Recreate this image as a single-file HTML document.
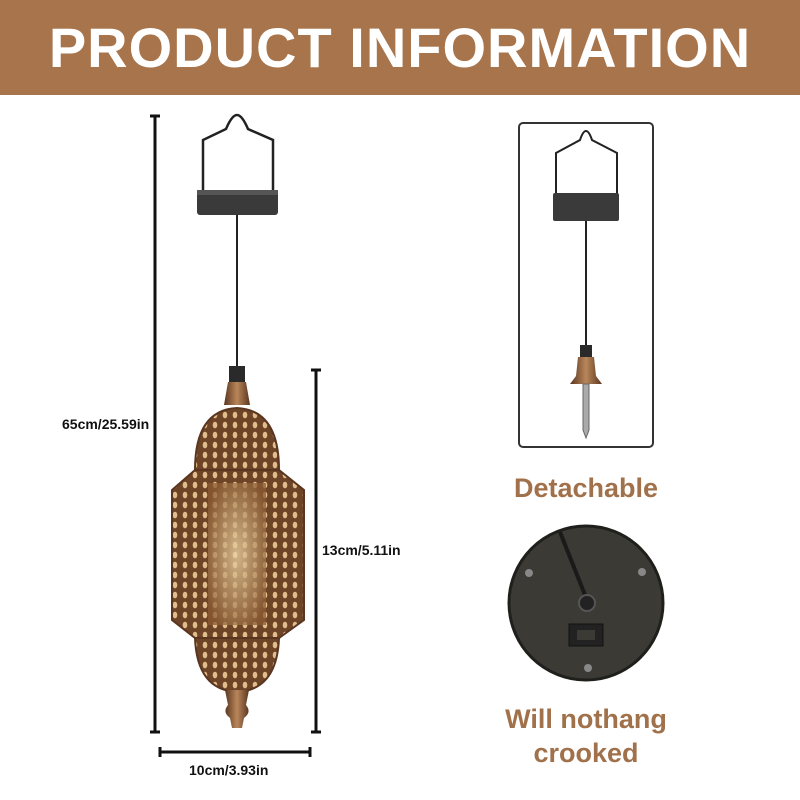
<!DOCTYPE html>
<html><head><meta charset="utf-8"><style>
html,body{margin:0;padding:0;background:#fff;}
body{width:800px;height:800px;position:relative;overflow:hidden;font-family:"Liberation Sans","DejaVu Sans",sans-serif;}
.hdr{position:absolute;left:0;top:0;width:800px;height:95px;background:#a8744b;color:#fff;font-weight:bold;font-size:56px;text-align:center;line-height:95px;letter-spacing:1px;}
.t{position:absolute;font-weight:bold;color:#111;font-size:14px;}
.b{position:absolute;font-weight:bold;color:#a0714a;font-size:27px;text-align:center;}
</style></head><body>
<div class="hdr">PRODUCT INFORMATION</div>
<svg width="800" height="800" style="position:absolute;left:0;top:0">
<defs>
<linearGradient id="cu" x1="0" x2="1"><stop offset="0" stop-color="#5a3620"/><stop offset=".5" stop-color="#b9865a"/><stop offset="1" stop-color="#5a3620"/></linearGradient>
<radialGradient id="gl" cx=".5" cy=".5" r=".6"><stop offset="0" stop-color="#f2d9a8"/><stop offset="1" stop-color="#8a5a32"/></radialGradient>
<pattern id="pt" width="10" height="10" patternUnits="userSpaceOnUse"><rect width="10" height="10" fill="#6e4426"/><ellipse cx="5" cy="5" rx="2.3" ry="3.3" fill="#e0bd8c"/></pattern>
</defs>
<g stroke="#111" stroke-width="3">
<line x1="155" y1="116" x2="155" y2="732"/><line x1="150" y1="116" x2="160" y2="116"/><line x1="150" y1="732" x2="160" y2="732"/>
<line x1="316" y1="370" x2="316" y2="732"/><line x1="311" y1="370" x2="321" y2="370"/><line x1="311" y1="732" x2="321" y2="732"/>
<line x1="160" y1="752" x2="310" y2="752"/><line x1="160" y1="747" x2="160" y2="757"/><line x1="310" y1="747" x2="310" y2="757"/>
</g>
<path d="M203 192 L203 140 L226 129 Q232 115 237 115 Q242 115 248 129 L273 140 L273 192" fill="none" stroke="#222" stroke-width="2.5"/>
<rect x="197" y="190" width="81" height="25" fill="#3a3a3a" rx="3"/>
<rect x="197" y="190" width="81" height="5" fill="#555"/>
<line x1="237" y1="215" x2="237" y2="368" stroke="#222" stroke-width="2"/>
<rect x="229" y="366" width="16" height="16" fill="#2a2a2a"/>
<path d="M228 382 L246 382 L250 405 L224 405Z" fill="url(#cu)"/>
<path d="M195 470 Q195 410 237 408 Q279 410 279 470Z" fill="url(#pt)" stroke="#5a3620" stroke-width="2"/>
<path d="M172 490 L195 470 L279 470 L304 490 L304 620 L279 638 L195 638 L172 620Z" fill="url(#pt)" stroke="#5a3620" stroke-width="2"/>
<rect x="208" y="483" width="58" height="142" fill="url(#gl)" opacity=".75"/>
<path d="M195 638 Q197 690 237 692 Q277 690 279 638Z" fill="url(#pt)" stroke="#5a3620" stroke-width="2"/>
<path d="M225 690 L249 690 L246 705 Q252 712 244 718 L242 728 L232 728 L230 718 Q222 712 228 705Z" fill="url(#cu)"/>
<rect x="519" y="123" width="134" height="324" rx="4" fill="none" stroke="#333" stroke-width="2"/>
<path d="M556 194 L556 153 L580 140 Q583 131 586 131 Q589 131 592 140 L617 153 L617 194" fill="none" stroke="#222" stroke-width="2"/>
<rect x="553" y="193" width="66" height="28" fill="#3a3a3a" rx="2"/>
<line x1="586" y1="221" x2="586" y2="346" stroke="#222" stroke-width="2"/>
<rect x="580" y="345" width="12" height="12" fill="#2a2a2a"/>
<path d="M578 357 L594 357 L596 376 L602 384 L570 384 L576 376Z" fill="url(#cu)"/>
<path d="M583 384 L589 384 L589 430 L586 438 L583 430Z" fill="#aaa" stroke="#666" stroke-width="1"/>
<circle cx="586" cy="603" r="77" fill="#3b3a35" stroke="#1f1f1c" stroke-width="3"/>
<line x1="560" y1="532" x2="587" y2="600" stroke="#1a1a1a" stroke-width="4"/>
<circle cx="587" cy="603" r="8" fill="#222" stroke="#555" stroke-width="2"/>
<rect x="569" y="624" width="34" height="22" fill="#222" stroke="#111"/>
<rect x="577" y="630" width="18" height="10" fill="#3b3a35"/>
<circle cx="529" cy="573" r="4" fill="#888"/><circle cx="642" cy="572" r="4" fill="#888"/><circle cx="588" cy="668" r="4" fill="#888"/>
</svg>
<div class="t" style="left:62px;top:416px;">65cm/25.59in</div>
<div class="t" style="left:322px;top:542px;">13cm/5.11in</div>
<div class="t" style="left:189px;top:762px;">10cm/3.93in</div>
<div class="b" style="left:486px;top:473px;width:200px;">Detachable</div>
<div class="b" style="left:476px;top:702px;width:220px;line-height:34px;">Will nothang<br>crooked</div>
</body></html>
